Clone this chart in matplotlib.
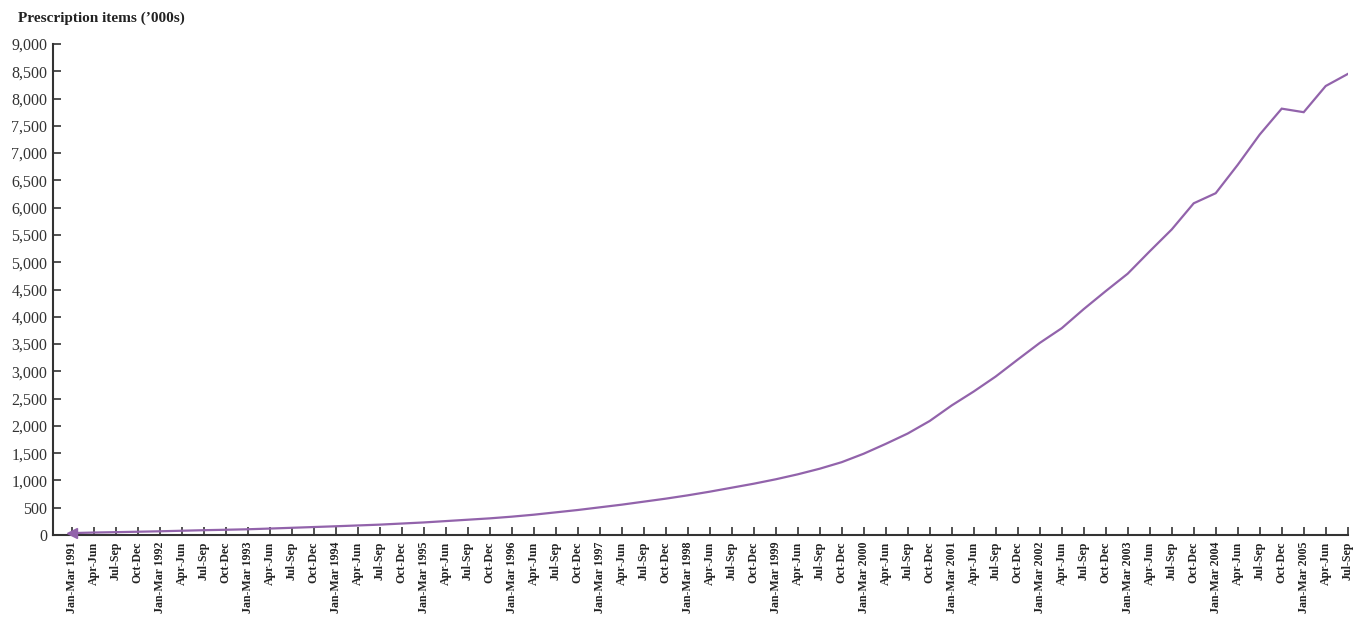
import matplotlib.pyplot as plt
from matplotlib.ticker import FuncFormatter

# quarters Jan-Mar 1991 .. Jul-Sep 2005
trimestres = ['Jan-Mar', 'Apr-Jun', 'Jul-Sep', 'Oct-Dec']
anos = list(range(1991, 2006))

rotulos = []
for ano in anos:
    for q in trimestres:
        if q == 'Jan-Mar':
            rotulos.append(f'{q} {ano}')
        else:
            rotulos.append(q)
rotulos = rotulos[:59]

# prescription items ('000s)
itens = [
    35, 45, 52, 60,          # 1991
    68, 78, 88, 96,          # 1992
    105, 118, 132, 146,      # 1993
    160, 175, 190, 210,      # 1994
    230, 255, 280, 305,      # 1995
    336, 372, 415, 458,      # 1996
    507, 556, 611, 666,      # 1997
    727, 794, 867, 940,      # 1998
    1021, 1112, 1215, 1335,  # 1999
    1490, 1670, 1860, 2090,  # 2000
    2375, 2630, 2905, 3215,  # 2001
    3520, 3790, 4140, 4470,  # 2002
    4790, 5200, 5600, 6080,  # 2003
    6265, 6785, 7340, 7815,  # 2004
    7750, 8230, 8450,        # 2005
]

cor_linha = '#9263ab'
cor_eixo = '#333333'

fig = plt.figure(figsize=(13.64, 6.18), dpi=100)
ax = fig.add_axes([53 / 1364, 83 / 618, (1347.7 - 53) / 1364, (535 - 44) / 618])

x = list(range(len(itens)))
ax.plot(x, itens, color=cor_linha, linewidth=1.6, solid_joinstyle='miter')
# small arrow head at the start of the line
ax.plot(x[0], itens[0], marker='<', markersize=7, color=cor_linha, clip_on=False,
        zorder=5)

ax.set_xlim(-0.85, len(itens) - 1)
ax.set_ylim(0, 9000)
ax.set_yticks(range(0, 9001, 500))
ax.yaxis.set_major_formatter(FuncFormatter(lambda v, p: f'{int(v):,}'))
ax.set_xticks(x)
ax.set_xticklabels(rotulos, rotation=90, fontweight='bold', fontsize=8.6,
                   family='Liberation Serif', color='#222222')
for t in ax.get_yticklabels():
    t.set_family('Liberation Serif')
    t.set_fontsize(11.5)
    t.set_color('#333333')

for lado in ['top', 'right']:
    ax.spines[lado].set_visible(False)
for lado in ['left', 'bottom']:
    ax.spines[lado].set_color(cor_eixo)
    ax.spines[lado].set_linewidth(1.5)

ax.tick_params(axis='y', direction='in', length=6, width=1.2, color=cor_eixo, pad=4)
ax.tick_params(axis='x', direction='in', length=6, width=1.2, color=cor_eixo, pad=5)

fig.text(18 / 1364, 1 - 18 / 618, 'Prescription items (’000s)', fontsize=11,
         fontweight='bold', family='Liberation Serif', color='#222222',
         ha='left', va='center')

plt.savefig('out.png', dpi=100)
